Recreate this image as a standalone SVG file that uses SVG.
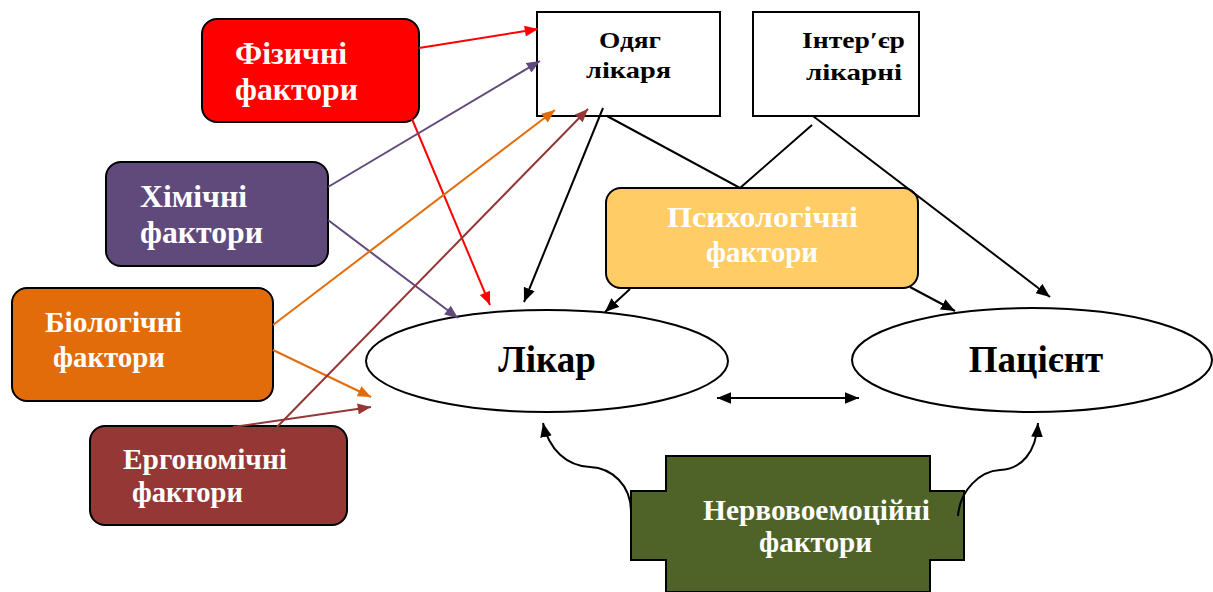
<svg xmlns="http://www.w3.org/2000/svg" width="1213" height="592" viewBox="0 0 1213 592">
<style>
.f{fill:#fff;font-size:31px}
.fs{fill:#fff;font-size:29px}
.b{fill:#000;font-size:24px}
.e{fill:#000;font-size:37px;text-anchor:middle}
.box{stroke:#000;stroke-width:2}
.c{fill:none;stroke-width:2}
</style>
<defs>
<marker id="ar" viewBox="0 0 12 10" refX="12" refY="5" markerWidth="14" markerHeight="11" markerUnits="userSpaceOnUse" orient="auto"><path d="M0,0L12,5L0,10z" fill="#ff0000"/></marker>
<marker id="ap" viewBox="0 0 12 10" refX="12" refY="5" markerWidth="14" markerHeight="11" markerUnits="userSpaceOnUse" orient="auto"><path d="M0,0L12,5L0,10z" fill="#604a7b"/></marker>
<marker id="ao" viewBox="0 0 12 10" refX="12" refY="5" markerWidth="14" markerHeight="11" markerUnits="userSpaceOnUse" orient="auto"><path d="M0,0L12,5L0,10z" fill="#e36c0a"/></marker>
<marker id="abr" viewBox="0 0 12 10" refX="12" refY="5" markerWidth="14" markerHeight="11" markerUnits="userSpaceOnUse" orient="auto"><path d="M0,0L12,5L0,10z" fill="#953735"/></marker>
<marker id="ak" viewBox="0 0 12 10" refX="12" refY="5" markerWidth="14" markerHeight="12" markerUnits="userSpaceOnUse" orient="auto"><path d="M0,0L12,5L0,10z" fill="#000"/></marker>
<marker id="aks" viewBox="0 0 12 10" refX="0" refY="5" markerWidth="14" markerHeight="12" markerUnits="userSpaceOnUse" orient="auto"><path d="M12,0L0,5L12,10z" fill="#000"/></marker>
</defs>
<g font-family="Liberation Serif, DejaVu Serif, serif" font-weight="bold">
<g id="odyag"><rect class="box" x="537" y="12" width="183" height="104" fill="#fff"/><text class="b" x="599" y="48" textLength="62" lengthAdjust="spacingAndGlyphs">Одяг</text><text class="b" x="586" y="78" textLength="85" lengthAdjust="spacingAndGlyphs">лікаря</text></g>
<g id="interier"><rect class="box" x="753" y="12" width="166" height="104" fill="#fff"/><text class="b" x="802" y="48" textLength="103" lengthAdjust="spacingAndGlyphs">Інтер′єр</text><text class="b" x="806" y="80" textLength="96" lengthAdjust="spacingAndGlyphs">лікарні</text></g>
<g id="psych"><rect class="box" x="606" y="188" width="312" height="100" rx="15" fill="#ffcc66"/><text class="fs" x="667" y="227" textLength="191" lengthAdjust="spacingAndGlyphs">Психологічні</text><text class="fs" x="706" y="262" textLength="112" lengthAdjust="spacingAndGlyphs">фактори</text></g>
<g id="fiz"><rect class="box" x="202" y="19" width="217" height="103" rx="15" fill="#ff0000"/><text class="f" x="235" y="64" textLength="112" lengthAdjust="spacingAndGlyphs">Фізичні</text><text class="f" x="235" y="100" textLength="123" lengthAdjust="spacingAndGlyphs">фактори</text></g>
<g id="khim"><rect class="box" x="106" y="162" width="222" height="104" rx="15" fill="#604a7b"/><text class="f" x="140" y="207" textLength="107" lengthAdjust="spacingAndGlyphs">Хімічні</text><text class="f" x="140" y="243" textLength="123" lengthAdjust="spacingAndGlyphs">фактори</text></g>
<g id="bio"><rect class="box" x="12" y="288" width="261" height="113" rx="15" fill="#e36c0a"/><text class="fs" x="45" y="332" textLength="137" lengthAdjust="spacingAndGlyphs">Біологічні</text><text class="fs" x="53" y="367" textLength="112" lengthAdjust="spacingAndGlyphs">фактори</text></g>
<g id="erg"><rect class="box" x="90" y="426" width="257" height="99" rx="15" fill="#953735"/><text class="fs" x="123" y="469" textLength="164" lengthAdjust="spacingAndGlyphs">Ергономічні</text><text class="fs" x="132" y="502" textLength="111" lengthAdjust="spacingAndGlyphs">фактори</text></g>
<g id="likar"><ellipse class="box" cx="547" cy="361" rx="181" ry="51" fill="#fff"/><text class="e" x="547" y="372">Лікар</text></g>
<g id="patsient"><ellipse class="box" cx="1032" cy="360" rx="180" ry="52" fill="#fff"/><text class="e" x="1036" y="372">Пацієнт</text></g>
<g id="nerv"><path class="box" d="M666,456H930V491H964V560H930V592H666V560H631V491H666Z" fill="#4f6228"/><text class="fs" x="703" y="520" textLength="227" lengthAdjust="spacingAndGlyphs">Нервовоемоційні</text><text class="fs" x="759" y="552" textLength="113" lengthAdjust="spacingAndGlyphs">фактори</text></g>
</g>
<g id="connectors">
<line class="c" stroke="#ff0000" x1="419" y1="48" x2="538" y2="29" marker-end="url(#ar)"/>
<line class="c" stroke="#ff0000" x1="412" y1="119" x2="490" y2="305" marker-end="url(#ar)"/>
<line class="c" stroke="#604a7b" x1="328" y1="187" x2="540" y2="61" marker-end="url(#ap)"/>
<line class="c" stroke="#604a7b" x1="328" y1="220" x2="458" y2="318" marker-end="url(#ap)"/>
<line class="c" stroke="#e36c0a" x1="273" y1="325" x2="555" y2="110" marker-end="url(#ao)"/>
<line class="c" stroke="#e36c0a" x1="273" y1="350" x2="371" y2="397" marker-end="url(#ao)"/>
<line class="c" stroke="#953735" x1="277" y1="427" x2="588" y2="109" marker-end="url(#abr)"/>
<line class="c" stroke="#953735" x1="233" y1="427" x2="371" y2="407" marker-end="url(#abr)"/>
<line class="c" stroke="#000" x1="603" y1="108" x2="524" y2="302" marker-end="url(#ak)"/>
<polyline class="c" stroke="#000" points="607,116 740,188 812,125"/>
<line class="c" stroke="#000" x1="813" y1="116" x2="1050" y2="297" marker-end="url(#ak)"/>
<line class="c" stroke="#000" x1="630" y1="289" x2="605" y2="312" marker-end="url(#ak)"/>
<line class="c" stroke="#000" x1="910" y1="287" x2="955" y2="311" marker-end="url(#ak)"/>
<line class="c" stroke="#000" x1="717" y1="398" x2="859" y2="398" marker-start="url(#aks)" marker-end="url(#ak)"/>
<path class="c" stroke="#000" d="M631,512C631,485 612,468 590,467C567,466 549,450 543,423" marker-end="url(#ak)"/>
<path class="c" stroke="#000" d="M958,516C960,490 980,471 1000,470C1022,469 1036,452 1038,423" marker-end="url(#ak)"/>
</g>
</svg>
